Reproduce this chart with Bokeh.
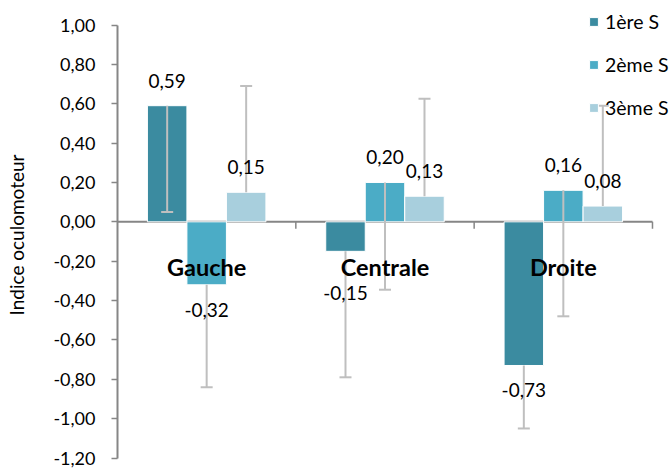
from bokeh.plotting import figure
from bokeh.models import Range1d, FixedTicker, CustomJSTickFormatter, Legend, LegendItem, ColumnDataSource
from bokeh.core.properties import value
from bokeh.embed import file_html
from bokeh.resources import INLINE

# ---------------- data ----------------
categories = ["Gauche", "Centrale", "Droite"]
series_names = ["1ère S", "2ème S", "3ème S"]
s1_values = [0.59, -0.15, -0.73]
s2_values = [-0.32, 0.20, 0.16]
s3_values = [0.15, 0.13, 0.08]
s1_errors = [0.54, 0.64, 0.32]
s2_errors = [0.52, 0.545, 0.64]
s3_errors = [0.54, 0.495, 0.51]
error_direction = [-1, -1, 1]          # Excel: minus / minus / plus
y_ticks = [-1.2, -1.0, -0.8, -0.6, -0.4, -0.2, 0.0, 0.2, 0.4, 0.6, 0.8, 1.0]

# ---------------- styles ----------------
colors = ["#3B8BA0", "#4BACC6", "#A8CFDD"]
err_color = "#BFBFBF"
axis_color = "#868686"
FONT = "Lato"
label_extra = {(1, 0): 17}   # extra px push for the "-0,15" label (Excel moved it)

W, H = 669, 469
LEFT = 117
PX_PER_CAT = 178.33
TOP_PX, BOT_PX = 24.5, 457.5          # pixel rows of the 1,00 and -1,20 ticks
PX_PER_UNIT = (BOT_PX - TOP_PX) / 2.2
y_top_val = 1.0 + TOP_PX / PX_PER_UNIT
y_bot_val = -1.2 - (H - BOT_PX) / PX_PER_UNIT

p = figure(width=W, height=H, output_backend="svg", toolbar_location=None,
           x_range=Range1d(0, (W - LEFT) / PX_PER_CAT),
           y_range=Range1d(y_bot_val, y_top_val),
           x_axis_type=None,
           min_border_left=LEFT, min_border_right=0, min_border_top=0, min_border_bottom=0)
p.outline_line_color = None
p.grid.visible = False
p.background_fill_color = "white"

# y axis
ya = p.yaxis[0]
ya.ticker = FixedTicker(ticks=y_ticks)
ya.formatter = CustomJSTickFormatter(code="var t = Math.abs(tick) < 1e-9 ? 0 : tick; return t.toFixed(2).replace('.', ',');")
ya.bounds = (min(y_ticks), max(y_ticks))
ya.axis_line_color = axis_color
ya.axis_line_width = 2
ya.major_tick_line_color = axis_color
ya.major_tick_line_width = 1.5
ya.major_tick_out = 6
ya.major_tick_in = 0
ya.minor_tick_line_color = None
ya.major_label_standoff = 16
ya.major_label_text_font = FONT
ya.major_label_text_font_size = "18px"
ya.major_label_text_color = "#000000"
ya.axis_label = "Indice oculomoteur"
ya.axis_label_text_font = FONT
ya.axis_label_text_font_size = "19px"
ya.axis_label_text_font_style = "normal"
ya.axis_label_text_color = "#000000"
ya.axis_label_standoff = 22

# category x-axis at zero
n = len(categories)
centers = [i + 0.5 for i in range(n)]
p.segment(x0=[0], y0=[0], x1=[n], y1=[0], line_color=axis_color, line_width=2)
tick_len = 7 / PX_PER_UNIT
p.segment(x0=list(range(1, n + 1)), y0=[0] * n, x1=list(range(1, n + 1)), y1=[-tick_len] * n,
          line_color=axis_color, line_width=1.5)

bar_w = 0.2215
offsets = [-bar_w, 0.0, bar_w]
all_values = [s1_values, s2_values, s3_values]
all_errors = [s1_errors, s2_errors, s3_errors]

bar_renderers = []
for k in range(3):
    xs = [c + offsets[k] for c in centers]
    src = ColumnDataSource(dict(x=xs, top=all_values[k]))
    r = p.vbar(x="x", top="top", bottom=0, width=bar_w, source=src,
               fill_color=colors[k], line_color="white", line_width=1)
    bar_renderers.append(r)

# error bars
for k in range(3):
    xs = [c + offsets[k] for c in centers]
    ends = [v + error_direction[k] * e for v, e in zip(all_values[k], all_errors[k])]
    p.segment(x0=xs, y0=all_values[k], x1=xs, y1=ends, line_color=err_color, line_width=2)
    p.scatter(x=xs, y=ends, marker="dash", size=12, line_color=err_color, line_width=2)

# category labels
p.text(x=centers, y=[0] * n, text=categories, y_offset=45,
       text_font=value(FONT), text_font_style="bold", text_font_size="23.5px",
       text_align="center", text_baseline="middle", text_color="#000000")

# data labels
for k in range(3):
    xs = [c + offsets[k] for c in centers]
    vals = all_values[k]
    txt = [("%.2f" % v).replace(".", ",") for v in vals]
    yoff = []
    for i, v in enumerate(vals):
        d = 25 + label_extra.get((i, k), 0)
        yoff.append(-d if v >= 0 else d)
    src = ColumnDataSource(dict(x=xs, y=vals, t=txt, yo=yoff))
    p.text(x="x", y="y", text="t", y_offset="yo", source=src,
           text_font=value(FONT), text_font_size="19px",
           text_align="center", text_baseline="middle", text_color="#000000")

legend = Legend(items=[LegendItem(label=series_names[k], renderers=[bar_renderers[k]]) for k in range(3)],
                location=(471, 350), orientation="vertical",
                glyph_width=11, glyph_height=11, label_standoff=6,
                label_text_font=FONT, label_text_font_size="19.5px", label_text_color="#000000",
                label_height=22, spacing=20, padding=0, margin=0,
                border_line_alpha=0, background_fill_alpha=0)
p.add_layout(legend)

open("out.html", "w").write(file_html(p, INLINE))
